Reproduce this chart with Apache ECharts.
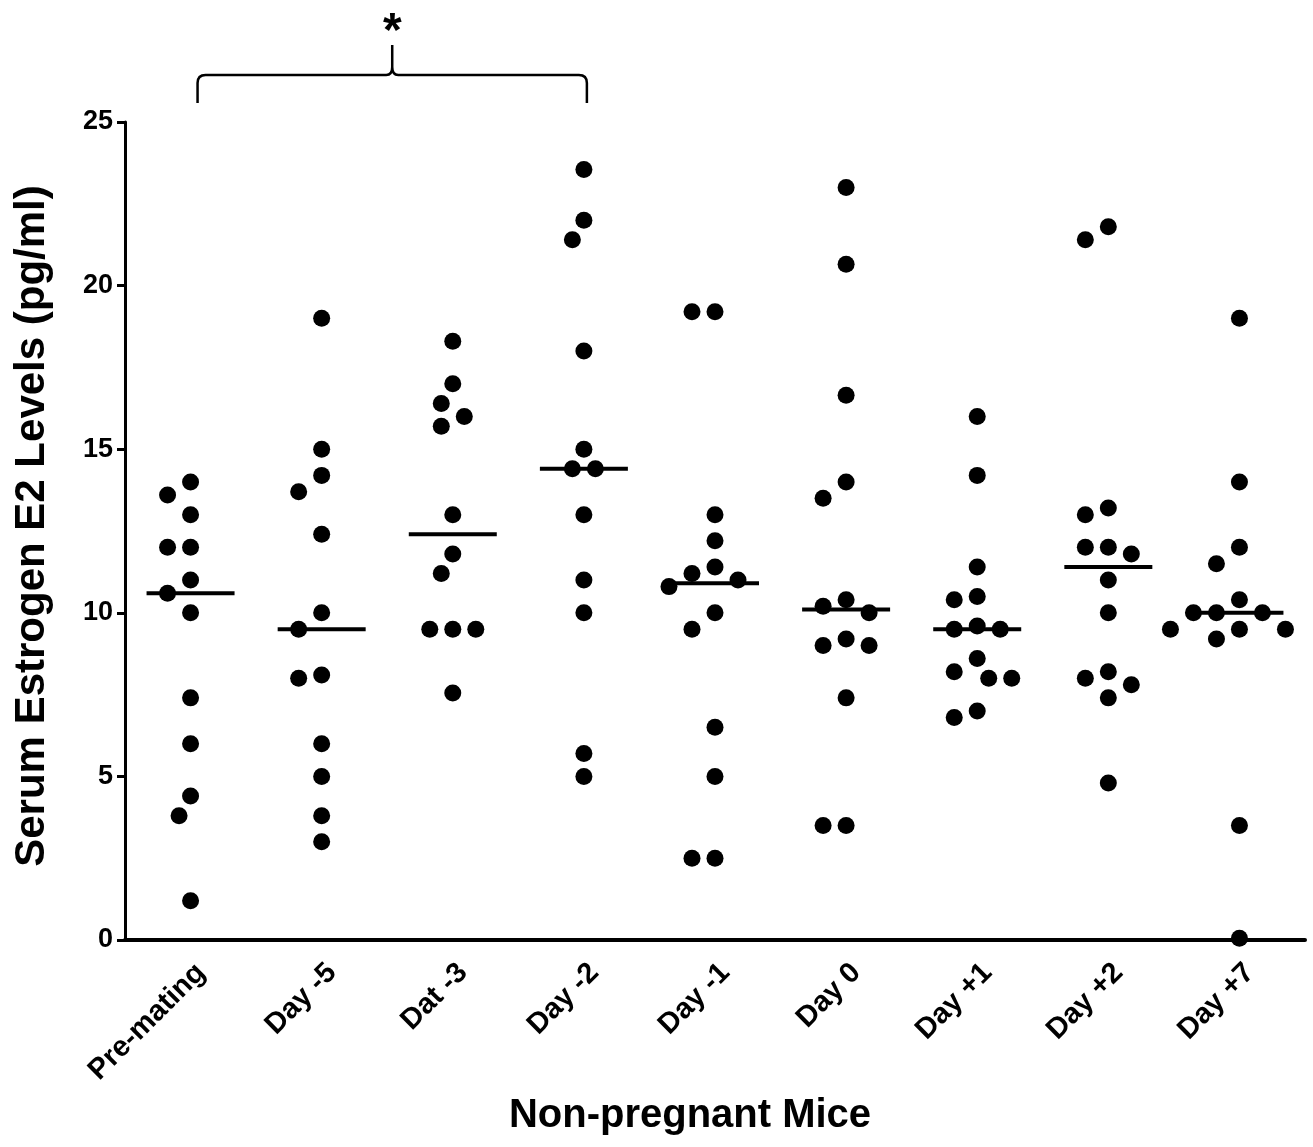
<!DOCTYPE html>
<html><head><meta charset="utf-8">
<script src="https://cdn.jsdelivr.net/npm/echarts@6/dist/echarts.min.js"></script>
<style>html,body{margin:0;padding:0;background:#fff}#c{width:1313px;height:1147px}</style>
</head><body><div id="c"></div>
<script>
// ---- data ----
const categories = ['Pre-mating', 'Day -5', 'Dat -3', 'Day -2', 'Day -1', 'Day 0', 'Day +1', 'Day +2', 'Day +7'];
const preMating = [14.0, 13.6, 13.0, 12.0, 12.0, 11.0, 10.6, 10.0, 7.4, 6.0, 4.4, 3.8, 1.2];
const dayMinus5 = [19.0, 15.0, 14.2, 13.7, 12.4, 10.0, 9.5, 8.1, 8.0, 6.0, 5.0, 3.8, 3.0];
const datMinus3 = [18.3, 17.0, 16.4, 16.0, 15.7, 13.0, 11.8, 11.2, 9.5, 9.5, 9.5, 7.55];
const dayMinus2 = [23.55, 22.0, 21.4, 18.0, 15.0, 14.4, 14.4, 13.0, 11.0, 10.0, 5.7, 5.0];
const dayMinus1 = [19.2, 19.2, 13.0, 12.2, 11.4, 11.2, 11.0, 10.8, 10.0, 9.5, 6.5, 5.0, 2.5, 2.5];
const day0 = [23.0, 20.65, 16.65, 14.0, 13.5, 10.4, 10.2, 10.0, 9.2, 9.0, 9.0, 7.4, 3.5, 3.5];
const dayPlus1 = [16.0, 14.2, 11.4, 10.5, 10.4, 9.6, 9.5, 9.5, 8.6, 8.2, 8.0, 8.0, 7.0, 6.8];
const dayPlus2 = [21.8, 21.4, 13.2, 13.0, 12.0, 12.0, 11.8, 11.0, 10.0, 8.2, 8.0, 7.8, 7.4, 4.8];
const dayPlus7 = [19.0, 14.0, 12.0, 11.5, 10.4, 10.0, 10.0, 10.0, 9.5, 9.5, 9.5, 9.2, 3.5, 0.05];
const medians = [10.6, 9.5, 12.4, 14.4, 10.9, 10.1, 9.5, 11.4, 10.0];
const yTicks = [0, 5, 10, 15, 20, 25];
const bracketFrom = 0, bracketTo = 3, bracketLabel = '*';
const yTitle = 'Serum Estrogen E2 Levels (pg/ml)';
const xTitle = 'Non-pregnant Mice';

const groups = [preMating, dayMinus5, datMinus3, dayMinus2, dayMinus1, day0, dayPlus1, dayPlus2, dayPlus7];

const FONT = '"Liberation Sans", Arial, Helvetica, sans-serif';
const GRID = {left: 125, right: 8, top: 122, bottom: 207};
const chart = echarts.init(document.getElementById('c'), null, {renderer: 'canvas'});

function braceItem(params, api) {
  const d0 = api.value(0), d1 = api.value(1);
  const bl = api.coord([d0, 0])[0] + 7;
  const br = api.coord([d1, 0])[0] + 3;
  const bm = (bl + br) / 2;
  const t = params.coordSys.y;
  const yb = t - 19, yh = t - 47, yp = t - 77, r = 8;
  const pathData = `M${bl},${yb} L${bl},${yh + r} Q${bl},${yh} ${bl + r},${yh} L${bm - 6},${yh} Q${bm},${yh} ${bm},${yh - 8} L${bm},${yp} M${bm},${yh - 8} Q${bm},${yh} ${bm + 6},${yh} L${br - r},${yh} Q${br},${yh} ${br},${yh + r} L${br},${yb}`;
  return {
    type: 'group',
    children: [
      {type: 'path', shape: {pathData: pathData}, style: {fill: null, stroke: '#000', lineWidth: 2.5}},
      {type: 'text', x: bm, y: yp - 12, style: {text: bracketLabel, font: 'bold 48px ' + FONT, fill: '#000', align: 'center', verticalAlign: 'middle'}}
    ]
  };
}

const option = {
  backgroundColor: '#fff',
  animation: false,
  grid: GRID,
  xAxis: [
    {
      type: 'category', data: categories, boundaryGap: true,
      axisLine: {onZero: false, lineStyle: {color: '#000', width: 4}},
      axisTick: {alignWithLabel: true, length: 8, lineStyle: {color: '#000', width: 3}},
      axisLabel: {rotate: 45, color: '#000', fontSize: 29, fontWeight: 'bold', fontFamily: FONT, margin: 18, interval: 0, verticalAlign: 'top'},
      splitLine: {show: false}
    },
    {type: 'value', min: -0.5, max: 8.5, show: false}
  ],
  yAxis: {
    type: 'value', min: yTicks[0], max: yTicks[yTicks.length - 1], interval: yTicks[1] - yTicks[0],
    axisLine: {show: true, onZero: false, lineStyle: {color: '#000', width: 3}},
    axisTick: {show: true, length: 8, lineStyle: {color: '#000', width: 3}},
    axisLabel: {color: '#000', fontSize: 27, fontWeight: 'bold', fontFamily: FONT, margin: 12},
    splitLine: {show: false}
  },
  series: [
    {id: 'dots', type: 'scatter', xAxisIndex: 1, yAxisIndex: 0, symbol: 'circle', symbolSize: 17,
     itemStyle: {color: '#000', opacity: 1}, clip: false, data: [], z: 3},
    {id: 'med', type: 'scatter', xAxisIndex: 1, yAxisIndex: 0, symbol: 'rect', symbolSize: [88, 4],
     itemStyle: {color: '#000', opacity: 1}, data: medians.map((m, i) => [i, m]), z: 4},
    {id: 'brace', type: 'custom', xAxisIndex: 1, yAxisIndex: 0, renderItem: braceItem,
     data: [[bracketFrom, bracketTo]], clip: false, silent: true, z: 5}
  ],
  graphic: [
    {type: 'text', x: 32, y: 526, rotation: Math.PI / 2, style: {text: yTitle, font: 'bold 42px ' + FONT, fill: '#000', align: 'center', verticalAlign: 'middle'}},
    {type: 'text', x: 690, y: 1116, style: {text: xTitle, font: 'bold 40px ' + FONT, fill: '#000', align: 'center', verticalAlign: 'middle'}}
  ]
};
chart.setOption(option);

// pixel scales
const pA = chart.convertToPixel({xAxisIndex: 1, yAxisIndex: 0}, [0, 0]);
const pB = chart.convertToPixel({xAxisIndex: 1, yAxisIndex: 0}, [1, 1]);
const pxPerX = pB[0] - pA[0];
const pxPerY = pA[1] - pB[1];

// beeswarm layout
const STEP = 11.5, D = 20;
const dotData = [];
groups.forEach((vals, gi) => {
  const placed = [];
  const sorted = vals.slice().sort((a, b) => b - a);
  sorted.forEach(v => {
    const y = v * pxPerY;
    let chosen = 0;
    for (let k = 0; k < 40; k++) {
      const cands = k === 0 ? [0] : [-k * STEP, k * STEP];
      let ok = null;
      for (const c of cands) {
        if (placed.every(p => Math.hypot(p[0] - c, p[1] - y) >= D)) { ok = c; break; }
      }
      if (ok !== null) { chosen = ok; break; }
    }
    placed.push([chosen, y]);
    dotData.push([gi + chosen / pxPerX, v]);
  });
});

chart.setOption({series: [{id: 'dots', data: dotData}]});
</script></body></html>
